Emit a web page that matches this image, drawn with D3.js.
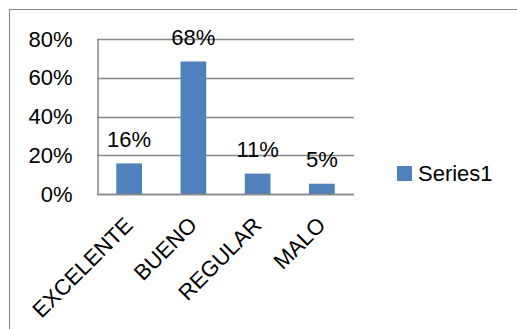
<!DOCTYPE html>
<html><head><meta charset="utf-8">
<script src="https://cdn.jsdelivr.net/npm/d3@7"></script>
<style>
html,body{margin:0;padding:0;background:#fff;}
svg text{font-family:"Liberation Sans",Arial,sans-serif;fill:#000;}
</style></head>
<body><svg id="c" width="517" height="329"></svg>
<script>
const categories = ["EXCELENTE","BUENO","REGULAR","MALO"];
const values = [0.158, 0.684, 0.1053, 0.053];
const yTicks = [0, 0.2, 0.4, 0.6, 0.8];
const seriesName = "Series1";

(function(){
const svg = d3.select("#c");
const fs = 22;
const pL = 97, pR = 354, pT = 39, pB = 194;
const grey = "#878787";
const barColor = "#4F81BD";

svg.append("rect").attr("x",9.5).attr("y",9.5).attr("width",540).attr("height",340)
  .attr("fill","#fff").attr("stroke",grey).attr("stroke-width",1);

const x = d3.scaleBand().domain(categories).range([pL,pR]).paddingInner(0.6).paddingOuter(0.3);
const y = d3.scaleLinear().domain([0,0.8]).range([pB,pT]);

// gridlines
svg.append("g").selectAll("line").data(yTicks).join("line")
  .attr("x1",pL).attr("x2",pR)
  .attr("y1",d=>Math.round(y(d))+0.5).attr("y2",d=>Math.round(y(d))+0.5)
  .attr("stroke",grey).attr("stroke-width",1.5);

// y axis
const yAxis = d3.axisLeft(y).tickValues(yTicks).tickFormat(d=>Math.round(d*100)+"%").tickSize(0).tickPadding(25);
const gy = svg.append("g").attr("transform",`translate(${pL+0.5},0)`).call(yAxis);
gy.select(".domain").attr("stroke",grey).attr("stroke-width",1.5);
gy.selectAll("text").attr("font-size",fs).attr("font-family","Liberation Sans, Arial, sans-serif").attr("fill","#000");

// bars
svg.append("g").selectAll("rect").data(values).join("rect")
  .attr("x",(d,i)=>x(categories[i]))
  .attr("width",x.bandwidth())
  .attr("y",d=>y(d))
  .attr("height",d=>y(0)-y(d))
  .attr("fill",barColor);

// data labels
svg.append("g").selectAll("text").data(values).join("text")
  .attr("x",(d,i)=>x(categories[i])+x.bandwidth()/2)
  .attr("y",d=>y(d)-16.5)
  .attr("text-anchor","middle")
  .attr("font-size",fs)
  .text(d=>Math.round(d*100)+"%");

// x axis
const xAxis = d3.axisBottom(x).tickSize(0).tickFormat(d=>d);
const gx = svg.append("g").attr("transform",`translate(0,${pB+0.5})`).call(xAxis);
gx.select(".domain").attr("stroke",grey).attr("stroke-width",1.5).attr("d",`M${pL},0H${pR}`);
gx.selectAll("text")
  .attr("font-size",fs).attr("font-family","Liberation Sans, Arial, sans-serif").attr("fill","#000")
  .attr("text-anchor","end").attr("dy",0).attr("y",0)
  .attr("transform","translate(5,32) rotate(-45)");

// legend
const lg = svg.append("g");
lg.append("rect").attr("x",397).attr("y",166).attr("width",15).attr("height",15).attr("fill",barColor);
lg.append("text").attr("x",418).attr("y",181).attr("font-size",fs).text(seriesName);
})();
</script></body></html>
